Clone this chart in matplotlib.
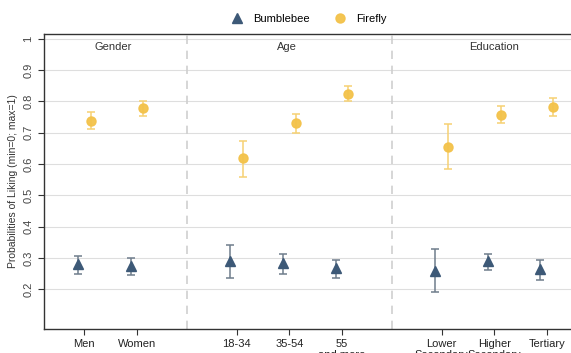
import numpy as np
import matplotlib.pyplot as plt

plt.rcParams['font.family'] = ['Liberation Sans', 'DejaVu Sans']

# categories and groups
categories = ['Men', 'Women', '18-34', '35-54', '55\nand more',
              'Lower\nSecondary', 'Higher\nSecondary', 'Tertiary']
groups = ['Gender', 'Age', 'Education']

# predicted probabilities with 95% CI
bumble = [0.280, 0.275, 0.290, 0.283, 0.267, 0.259, 0.290, 0.264]
bumble_lo = [0.249, 0.244, 0.235, 0.249, 0.237, 0.190, 0.261, 0.229]
bumble_hi = [0.306, 0.301, 0.342, 0.314, 0.295, 0.327, 0.314, 0.294]

firefly = [0.737, 0.780, 0.620, 0.732, 0.825, 0.655, 0.757, 0.782]
firefly_lo = [0.711, 0.753, 0.559, 0.700, 0.800, 0.583, 0.732, 0.752]
firefly_hi = [0.765, 0.801, 0.675, 0.761, 0.849, 0.729, 0.784, 0.812]

# layout
xpos = np.array([1, 2, 3.9, 4.9, 5.9, 7.8, 8.8, 9.8])
dividers = [2.95, 6.85]
title_x = [1.55, 4.85, 8.8]
off = 0.12

c_bee = '#3d5977'
c_bee_err = '#6f7d8c'
c_fly = '#f3c24a'
c_fly_err = '#f6d173'

fig = plt.figure(figsize=(5.71, 3.53), dpi=100)
ax = fig.add_axes([0.077, 0.068, 0.957, 0.837])

b = np.array(bumble)
f = np.array(firefly)
ax.errorbar(xpos - off, b, yerr=[b - np.array(bumble_lo), np.array(bumble_hi) - b],
            fmt='none', ecolor=c_bee_err, elinewidth=1.1, capsize=3, capthick=1.1, zorder=3)
ax.plot(xpos - off, b, '^', color=c_bee, markersize=7, zorder=4, label='Bumblebee')
ax.errorbar(xpos + off, f, yerr=[f - np.array(firefly_lo), np.array(firefly_hi) - f],
            fmt='none', ecolor=c_fly_err, elinewidth=1.1, capsize=3, capthick=1.1, zorder=3)
ax.plot(xpos + off, f, 'o', color=c_fly, markersize=6.5, alpha=0.95, zorder=4, label='Firefly')

for d in dividers:
    ax.axvline(d, color='#cfcfcf', linestyle=(0, (5, 4)), linewidth=1.2, zorder=1)

for g, tx in zip(groups, title_x):
    ax.text(tx, 0.975, g, ha='center', va='center', fontsize=8, color='#333333')

ax.set_xlim(0.23, 10.63)
ax.set_ylim(0.073, 1.017)
ax.set_yticks(np.arange(0.2, 1.01, 0.1))
ax.set_yticklabels(['0.2', '0.3', '0.4', '0.5', '0.6', '0.7', '0.8', '0.9', '1'],
                   rotation=90, va='center')
ax.set_xticks(xpos)
ax.set_xticklabels(categories, fontsize=8, color='#222222', linespacing=1.1)
ax.tick_params(axis='y', labelsize=8, labelcolor='#444444', length=4, color='#333333')
ax.tick_params(axis='x', length=4, color='#333333')
ax.grid(axis='y', color='#dedede', linewidth=0.8, zorder=0)
ax.set_axisbelow(True)
ax.set_ylabel('Probabilities of Liking (min=0; max=1)', fontsize=7.5, color='#333333', labelpad=4)

for s in ['left', 'bottom', 'top']:
    ax.spines[s].set_color('#333333')
    ax.spines[s].set_linewidth(1.0)
ax.spines['right'].set_visible(False)

ax.legend(loc='lower center', bbox_to_anchor=(0.48, 1.0), ncol=2, frameon=False,
          fontsize=8, handletextpad=0.4, columnspacing=1.8)

fig.savefig('out.png', dpi=100)
